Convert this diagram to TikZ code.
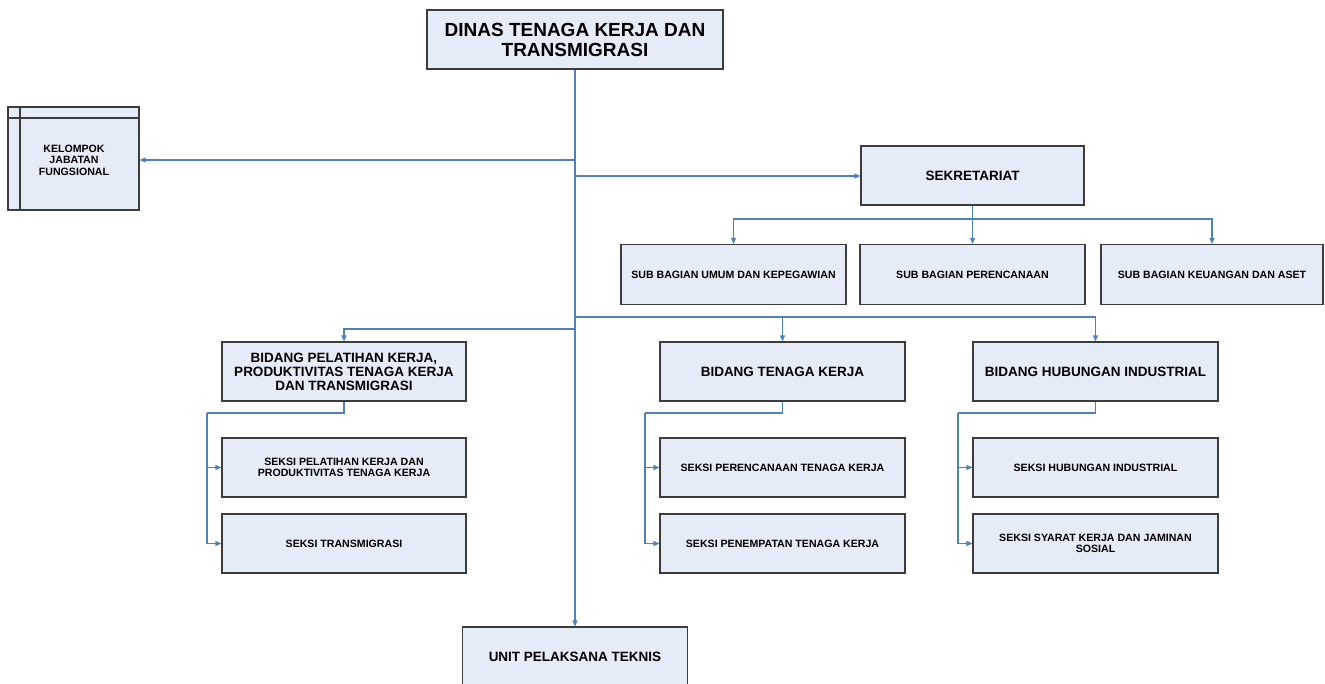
\documentclass[tikz,border=0pt]{standalone}
\usepackage{fontspec}
\setmainfont{Liberation Sans}
\usetikzlibrary{arrows.meta}
\definecolor{boxfill}{RGB}{230,236,247}
\definecolor{boxline}{RGB}{60,60,60}
\definecolor{conncol}{RGB}{79,129,189}
\tikzset{
  orgbox/.style={draw=boxline, fill=boxfill, line width=1.1pt, inner sep=0pt, align=center, font=\bfseries},
  bigtxt/.style={font=\bfseries\fontsize{13.5}{14}\selectfont},
  smalltxt/.style={font=\bfseries\fontsize{10.6}{11.5}\selectfont},
  conn/.style={draw=conncol, line width=1.2pt, -{Triangle[length=6pt,width=5pt]}},
  plainconn/.style={draw=conncol, line width=1.2pt}
}
\begin{document}
\begin{tikzpicture}[x=1pt,y=-1pt]
\useasboundingbox (0,0) rectangle (1325,684);
% nodes
\node[orgbox, minimum width=296pt, minimum height=59pt, font=\bfseries\fontsize{19}{20}\selectfont] (top) at (575,39.5) {DINAS TENAGA KERJA DAN\\TRANSMIGRASI};
\node[orgbox, minimum width=131pt, minimum height=103pt, smalltxt] (kel) at (73.5,158.5) {};
\node[smalltxt, align=center, inner sep=0pt] (keltxt) at (74,160) {KELOMPOK\\JABATAN\\FUNGSIONAL};
\draw[boxline, line width=1.1pt] (20,107) -- (20,210);
\draw[boxline, line width=1.1pt] (8,118) -- (139,118);
\node[orgbox, minimum width=223pt, minimum height=59pt, font=\bfseries\fontsize{13.5}{14}\selectfont] (sek) at (972.5,175.5) {SEKRETARIAT};
\node[orgbox, minimum width=225pt, minimum height=60pt, smalltxt] (sub1) at (733.5,274.5) {SUB BAGIAN UMUM DAN KEPEGAWIAN};
\node[orgbox, minimum width=225pt, minimum height=60pt, smalltxt] (sub2) at (972.5,274.5) {SUB BAGIAN PERENCANAAN};
\node[orgbox, minimum width=222pt, minimum height=60pt, smalltxt] (sub3) at (1212,274.5) {SUB BAGIAN KEUANGAN DAN ASET};
\node[orgbox, minimum width=244pt, minimum height=59pt, bigtxt] (bid1) at (344,371.5) {BIDANG PELATIHAN KERJA,\\PRODUKTIVITAS TENAGA KERJA\\DAN TRANSMIGRASI};
\node[orgbox, minimum width=245pt, minimum height=59pt, bigtxt] (bid2) at (782.5,371.5) {BIDANG TENAGA KERJA};
\node[orgbox, minimum width=245pt, minimum height=59pt, bigtxt] (bid3) at (1095.5,371.5) {BIDANG HUBUNGAN INDUSTRIAL};
\node[orgbox, minimum width=244pt, minimum height=59pt, smalltxt] (s11) at (344,467.5) {SEKSI PELATIHAN KERJA DAN\\PRODUKTIVITAS TENAGA KERJA};
\node[orgbox, minimum width=244pt, minimum height=59pt, smalltxt] (s12) at (344,543.5) {SEKSI TRANSMIGRASI};
\node[orgbox, minimum width=245pt, minimum height=59pt, smalltxt] (s21) at (782.5,467.5) {SEKSI PERENCANAAN TENAGA KERJA};
\node[orgbox, minimum width=245pt, minimum height=59pt, smalltxt] (s22) at (782.5,543.5) {SEKSI PENEMPATAN TENAGA KERJA};
\node[orgbox, minimum width=245pt, minimum height=59pt, smalltxt] (s31) at (1095.5,467.5) {SEKSI HUBUNGAN INDUSTRIAL};
\node[orgbox, minimum width=245pt, minimum height=59pt, smalltxt] (s32) at (1095.5,543.5) {SEKSI SYARAT KERJA DAN JAMINAN\\SOSIAL};
\node[orgbox, minimum width=225pt, minimum height=59pt, bigtxt] (upt) at (575,656.5) {UNIT PELAKSANA TEKNIS};
% junction coordinates
\coordinate (jk) at (575,160);
\coordinate (js) at (575,176);
\coordinate (jr) at (575,317);
\coordinate (jl) at (575,329);
\coordinate (sekb) at (972.5,219);
\coordinate (b1l) at (207,413);
\coordinate (b2l) at (645,413);
\coordinate (b3l) at (958,413);
% connectors
\draw[conn] (top.south) -- (upt.north);
\draw[conn] (jk) -- (jk -| kel.east);
\draw[conn] (js) -- (js -| sek.west);
\draw[conn] (sek.south) -- (sub2.north);
\draw[conn] (sekb) -| (sub1.north);
\draw[conn] (sekb) -| (sub3.north);
\draw[conn] (jl) -| (bid1.north);
\draw[conn] (jr) -| (bid2.north);
\draw[conn] (jr) -| (bid3.north);
\draw[plainconn] (bid1.south) |- (b1l);
\draw[conn] (b1l) |- (s11.west);
\draw[conn] (b1l) |- (s12.west);
\draw[plainconn] (bid2.south) |- (b2l);
\draw[conn] (b2l) |- (s21.west);
\draw[conn] (b2l) |- (s22.west);
\draw[plainconn] (bid3.south) |- (b3l);
\draw[conn] (b3l) |- (s31.west);
\draw[conn] (b3l) |- (s32.west);
\end{tikzpicture}
\end{document}
